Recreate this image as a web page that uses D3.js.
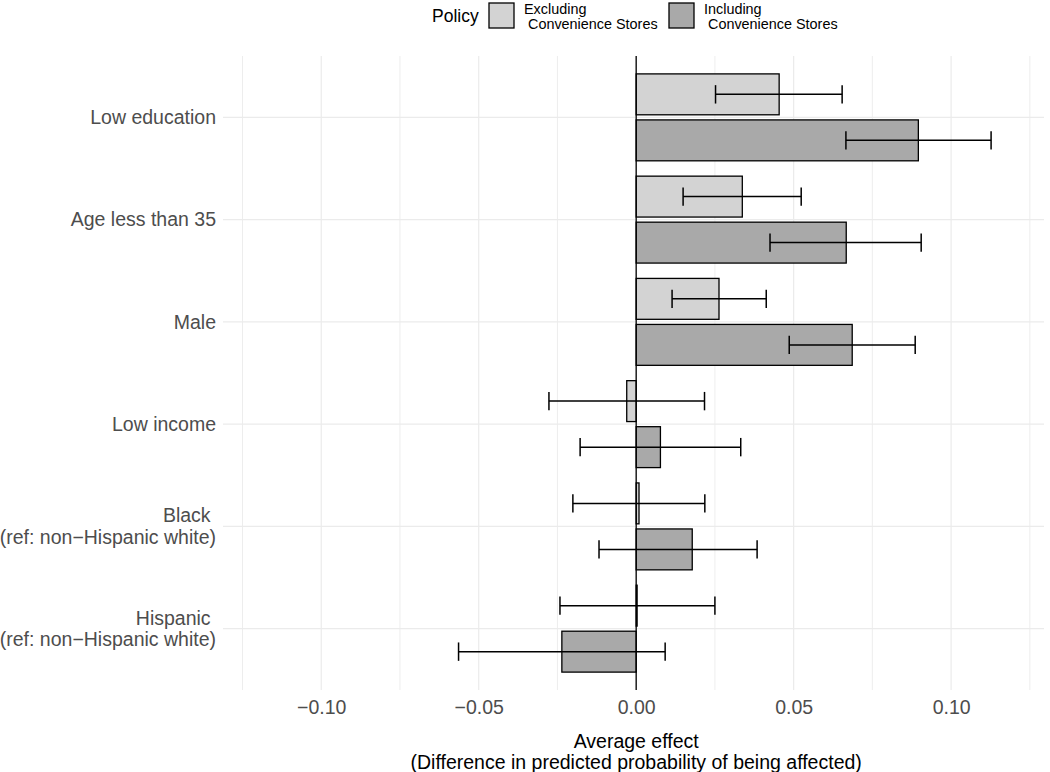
<!DOCTYPE html>
<html>
<head>
<meta charset="utf-8">
<script src="https://cdn.jsdelivr.net/npm/d3@7"></script>
<style>
  body { margin: 0; background: #fff; }
  svg { display: block; font-family: "Liberation Sans", Arial, sans-serif; }
</style>
</head>
<body>
<svg id="chart" width="1050" height="772"></svg>
<script>
// ---- data ----
const categories = [
  ["Low education"],
  ["Age less than 35"],
  ["Male"],
  ["Low income"],
  ["Black ", "(ref: non\u2212Hispanic white)"],
  ["Hispanic ", "(ref: non\u2212Hispanic white)"]
];
const categoryKeys = ["Low education", "Age less than 35", "Male", "Low income", "Black", "Hispanic"];
const policies = ["Excluding\n Convenience Stores", "Including\n Convenience Stores"];
const policyFill = ["#d3d3d3", "#a9a9a9"];

const excludingEffect = [0.0454, 0.0337, 0.0263, -0.0030, 0.0009, 0.0003];
const excludingLow    = [0.0252, 0.0149, 0.0114, -0.0277, -0.0201, -0.0242];
const excludingHigh   = [0.0654, 0.0524, 0.0413, 0.0217, 0.0218, 0.0250];

const includingEffect = [0.0896, 0.0667, 0.0686, 0.0077, 0.0178, -0.0236];
const includingLow    = [0.0666, 0.0425, 0.0486, -0.0178, -0.0118, -0.0564];
const includingHigh   = [0.1127, 0.0905, 0.0886, 0.0332, 0.0384, 0.0092];

const majorTicks = [-0.10, -0.05, 0.00, 0.05, 0.10];
const minorTicks = [-0.125, -0.075, -0.025, 0.025, 0.075, 0.125];
const tickLabels = ["\u22120.10", "\u22120.05", "0.00", "0.05", "0.10"];
const xTitle = ["Average effect", "(Difference in predicted probability of being affected)"];
const legendTitle = "Policy";

// ---- build rows ----
const rows = [];
categoryKeys.forEach((k, i) => {
  rows.push({cat: k, p: 0, v: excludingEffect[i], lo: excludingLow[i], hi: excludingHigh[i]});
  rows.push({cat: k, p: 1, v: includingEffect[i], lo: includingLow[i], hi: includingHigh[i]});
});

// ---- layout ----
const svg = d3.select("#chart");
const panel = {left: 223, right: 1044, top: 56, bottom: 690};

const x = d3.scaleLinear().domain([-0.1312, 0.1295]).range([panel.left, panel.right]);
const y = d3.scalePoint().domain(categoryKeys).range([panel.top, panel.bottom]).padding(0.6);
const step = y.step();

// gridlines
const grid = svg.append("g");
grid.selectAll("line.minor").data(minorTicks).join("line")
  .attr("x1", d => x(d)).attr("x2", d => x(d))
  .attr("y1", panel.top).attr("y2", panel.bottom)
  .attr("stroke", "#ebebeb").attr("stroke-width", 0.9);
grid.selectAll("line.major").data(majorTicks).join("line")
  .attr("x1", d => x(d)).attr("x2", d => x(d))
  .attr("y1", panel.top).attr("y2", panel.bottom)
  .attr("stroke", "#ebebeb").attr("stroke-width", 1.2);
grid.selectAll("line.h").data(categoryKeys).join("line")
  .attr("x1", panel.left).attr("x2", panel.right)
  .attr("y1", d => y(d)).attr("y2", d => y(d))
  .attr("stroke", "#ebebeb").attr("stroke-width", 1.2);

// bars
const barH = 0.4 * step;
const off = p => (p === 0 ? -0.225 : 0.225) * step;
svg.append("g").selectAll("rect").data(rows).join("rect")
  .attr("x", d => Math.min(x(0), x(d.v)))
  .attr("width", d => Math.max(0.8, Math.abs(x(d.v) - x(0))))
  .attr("y", d => y(d.cat) + off(d.p) - barH / 2)
  .attr("height", barH)
  .attr("fill", d => policyFill[d.p])
  .attr("stroke", "#000").attr("stroke-width", 1.3);

// zero line
svg.append("line")
  .attr("x1", x(0)).attr("x2", x(0))
  .attr("y1", panel.top).attr("y2", panel.bottom)
  .attr("stroke", "#000").attr("stroke-width", 1.3);

// error bars
const capH = 0.09 * step;
const eb = svg.append("g").attr("stroke", "#000").attr("stroke-width", 1.5).attr("fill", "none");
rows.forEach(d => {
  const cy = y(d.cat) + off(d.p);
  eb.append("line").attr("x1", x(d.lo)).attr("x2", x(d.hi)).attr("y1", cy).attr("y2", cy);
  eb.append("line").attr("x1", x(d.lo)).attr("x2", x(d.lo)).attr("y1", cy - capH).attr("y2", cy + capH);
  eb.append("line").attr("x1", x(d.hi)).attr("x2", x(d.hi)).attr("y1", cy - capH).attr("y2", cy + capH);
});

// x axis tick labels
const xAxis = d3.axisBottom(x).tickValues(majorTicks).tickSize(0).tickPadding(0)
  .tickFormat((d, i) => tickLabels[i]);
const gx = svg.append("g").attr("transform", `translate(0,${panel.bottom + 10})`).call(xAxis);
gx.select(".domain").remove();
gx.selectAll("text").attr("font-size", "19.5px").attr("fill", "#4d4d4d")
  .attr("font-family", "Liberation Sans, Arial, sans-serif").attr("dy", "0.71em");

// y axis labels
const yl = svg.append("g");
categoryKeys.forEach((k, i) => {
  const lines = categories[i];
  const lh = 21.5;
  const t = yl.append("text")
    .attr("text-anchor", "end")
    .attr("font-size", "19.5px").attr("fill", "#4d4d4d")
    .attr("xml:space", "preserve")
    .style("white-space", "pre");
  lines.forEach((ln, j) => {
    const cy = y(k) + (j - (lines.length - 1) / 2) * lh;
    t.append("tspan").attr("x", 216).attr("y", cy).attr("dy", "0.35em").text(ln);
  });
});

// x axis title
const tt = svg.append("text").attr("text-anchor", "middle").attr("font-size", "19.5px").attr("fill", "#000");
xTitle.forEach((ln, j) => {
  tt.append("tspan").attr("x", x(0)).attr("y", 748 + j * 21).text(ln);
});

// legend
const lg = svg.append("g");
lg.append("text").attr("x", 432).attr("y", 22).attr("font-size", "17.5px").attr("fill", "#000").text(legendTitle);
const keyX = [489, 669];
policies.forEach((p, i) => {
  lg.append("rect").attr("x", keyX[i]).attr("y", 3).attr("width", 25).attr("height", 25)
    .attr("fill", policyFill[i]).attr("stroke", "#000").attr("stroke-width", 1.3);
  const t = lg.append("text").attr("font-size", "14.4px").attr("fill", "#000")
    .style("white-space", "pre").attr("xml:space", "preserve");
  p.split("\n").forEach((ln, j) => {
    t.append("tspan").attr("x", keyX[i] + 35).attr("y", 13.5 + j * 15).text(ln);
  });
});
</script>
</body>
</html>
